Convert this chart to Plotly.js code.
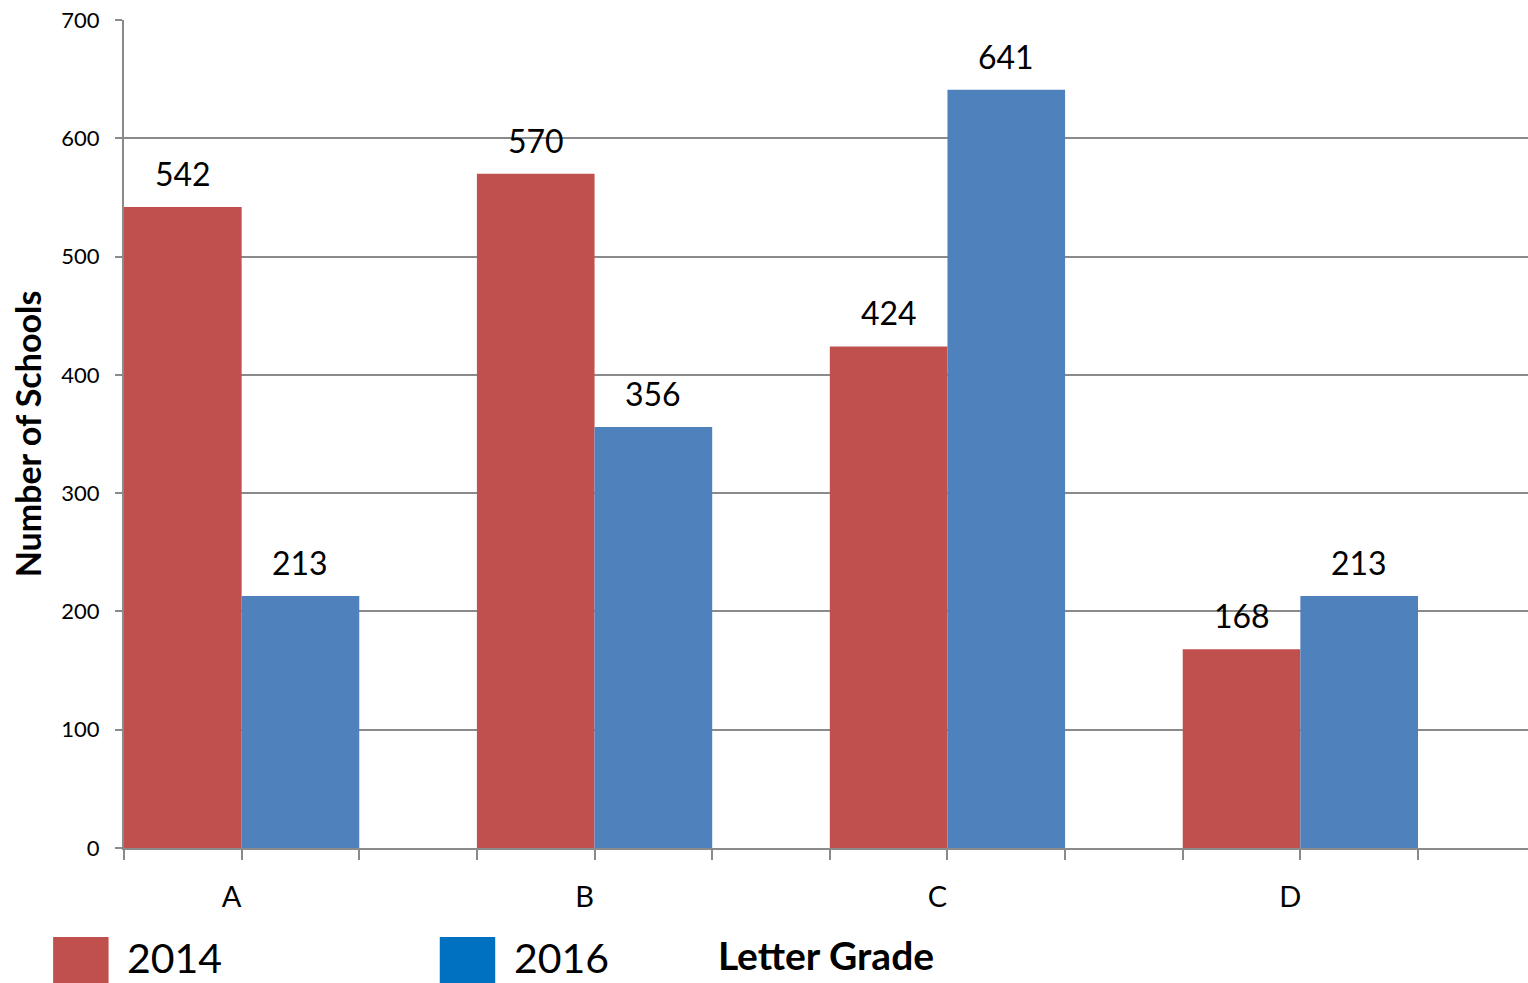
<!DOCTYPE html>
<html><head><meta charset="utf-8">
<script src="https://cdn.plot.ly/plotly-3.0.1.min.js"></script>
<style>html,body{margin:0;padding:0;background:#fff}#chart{width:1528px;height:983px}</style>
</head><body><div id="chart"></div>
<script>
const categories = ['A', 'B', 'C', 'D'];
const seriesNames = ['2014', '2016'];
const values2014 = [542, 570, 424, 168];
const values2016 = [213, 356, 641, 213];
const yTickValues = [0, 100, 200, 300, 400, 500, 600, 700];
const xTitle = 'Letter Grade';
const yTitle = 'Number of Schools';

const barColors = ['#C0504D', '#4F81BD'];
const legendColors = ['#C0504D', '#0070C0'];
const FONT = 'Lato, "Open Sans", sans-serif';
const GRAY = '#8a8a8a';
const BARGAP = 1 / 3;
const XRANGE = [-1 / 3, 3.645];

const series = [values2014, values2016];

const traces = series.map((vals, s) => ({
  type: 'bar',
  name: seriesNames[s],
  x: categories,
  y: vals,
  marker: {color: barColors[s], line: {width: 0}},
  hoverinfo: 'x+y+name'
}));
// invisible trace on helper axis for tick marks
traces.push({type: 'scatter', x: [], y: [], xaxis: 'x2', yaxis: 'y', showlegend: false, hoverinfo: 'skip'});

const barWidth = (1 - BARGAP) / 2;
const annotations = [];
series.forEach((vals, s) => {
  vals.forEach((v, i) => {
    annotations.push({
      x: i + (s - 0.5) * barWidth, y: v, xref: 'x', yref: 'y',
      text: String(v), showarrow: false, yanchor: 'bottom', yshift: 12,
      font: {family: FONT, size: 32, color: '#000'}
    });
  });
});

// custom legend (large swatches like the reference)
const legendX = [-0.0505, 0.2249];
const swatchW = 0.0395;
const shapes = [];
seriesNames.forEach((name, s) => {
  shapes.push({
    type: 'rect', xref: 'paper', yref: 'paper',
    x0: legendX[s], x1: legendX[s] + swatchW, y0: -0.165, y1: -0.1075,
    fillcolor: legendColors[s], line: {width: 0}
  });
  annotations.push({
    xref: 'paper', yref: 'paper', x: legendX[s] + swatchW + 0.0125, y: -0.1625,
    xanchor: 'left', yanchor: 'bottom', borderpad: 0, text: name, showarrow: false,
    font: {family: FONT, size: 41, color: '#000'}
  });
});

const layout = {
  width: 1528, height: 983,
  margin: {l: 124, r: 0, t: 20, b: 135, pad: 0},
  paper_bgcolor: '#fff', plot_bgcolor: '#fff',
  showlegend: false,
  barmode: 'group', bargap: BARGAP, bargroupgap: 0,
  font: {family: FONT, color: '#000'},
  xaxis: {
    type: 'category', range: XRANGE,
    showline: true, linecolor: GRAY, linewidth: 2,
    ticks: '', showgrid: false, zeroline: false,
    tickfont: {family: FONT, size: 29, color: '#000'},
    ticklabelshift: -10, ticklabelstandoff: 22,
    title: {text: xTitle, font: {family: FONT, size: 39, weight: 700, color: '#000'}, standoff: 31},
    automargin: false
  },
  xaxis2: {
    type: 'linear', overlaying: 'x', anchor: 'y', side: 'bottom', range: XRANGE,
    tickmode: 'linear', tick0: -1 / 3, dtick: 1 / 3,
    ticks: 'outside', ticklen: 11, tickwidth: 2, tickcolor: GRAY,
    showticklabels: false, showgrid: false, showline: false, zeroline: false
  },
  yaxis: {
    range: [0, 700], tickmode: 'array', tickvals: yTickValues,
    showline: true, linecolor: GRAY, linewidth: 2,
    ticks: 'outside', ticklen: 7, tickwidth: 2, tickcolor: GRAY,
    showgrid: true, gridcolor: GRAY, gridwidth: 1.5, zeroline: false,
    tickfont: {family: FONT, size: 22, color: '#000'},
    ticklabelstandoff: 11,
    title: {text: yTitle, font: {family: FONT, size: 34, weight: 700, color: '#000'}, standoff: 9},
    automargin: false
  },
  shapes: shapes,
  annotations: annotations
};

Plotly.newPlot('chart', traces, layout, {displayModeBar: false, responsive: false});
</script>
</body></html>
